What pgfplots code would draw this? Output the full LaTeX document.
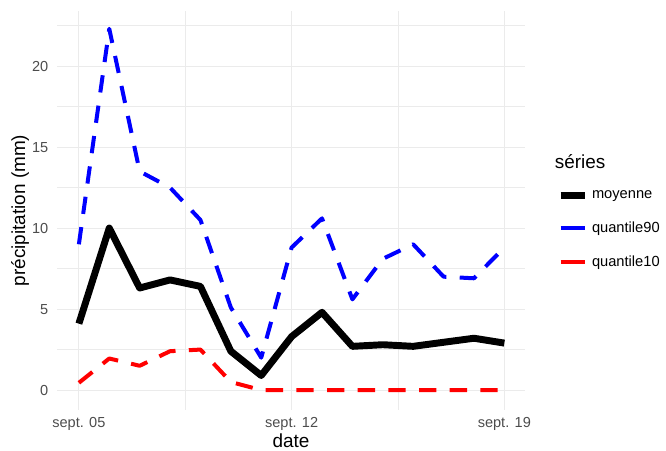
\documentclass[border=0pt]{standalone}
\usepackage{pgfplots}
\pgfplotsset{compat=1.18}
\usepackage{fontspec}
\setmainfont{Liberation Sans}
\begin{document}
\begin{tikzpicture}
\useasboundingbox (0,0) rectangle (499.5pt,337.5pt);
\begin{axis}[
  at={(42.75pt,30pt)}, anchor=south west, scale only axis,
  width=351pt, height=299.25pt,
  xmin=-0.72, xmax=14.68, ymin=-1.23, ymax=23.4,
  axis line style={draw=none}, major tick length=0pt, minor tick length=0pt,
  grid=both,
  major grid style={color=black!8, line width=0.8pt},
  minor grid style={color=black!8, line width=0.45pt},
  xtick={0,7,14}, xticklabels={sept. 05, sept. 12, sept. 19},
  minor xtick={3.5,10.5},
  ytick={0,5,...,20}, minor ytick={2.5,7.5,...,22.5},
  /pgf/number format/assume math mode=true,
  ticklabel style={font=\fontsize{10.9}{13}\selectfont, text=black!70},
  xticklabel style={yshift=-2pt},
  yticklabel style={xshift=-3pt},
  xlabel={date}, ylabel={précipitation (mm)},
  every axis x label/.style={at={(axis description cs:0.5,-0.078)}, anchor=center, font=\fontsize{14.2}{16}\selectfont},
  every axis y label/.style={at={(axis description cs:-0.079,0.5)}, rotate=90, anchor=center, font=\fontsize{14.2}{16}\selectfont},
  legend style={at={(axis description cs:1.068,0.558)}, anchor=north west, draw=none, fill=none,
    font=\fontsize{11}{13}\selectfont, row sep=12pt, inner sep=0pt,
    /tikz/every odd column/.append style={column sep=1pt}},
  legend cell align=left,
  legend image code/.code={\draw[#1, solid] (0pt,0pt) -- (18pt,0pt);},
  line join=round,
]
\addplot[black, line width=5.2pt] coordinates {
(0,4.1)(1,10.0)(2,6.3)(3,6.8)(4,6.4)(5,2.4)(6,0.9)(7,3.3)(8,4.8)(9,2.7)(10,2.8)(11,2.7)(12,2.95)(13,3.2)(14,2.9)
};
\addlegendentry{moyenne}
\addplot[blue, line width=3pt, dash pattern=on 13pt off 10pt] coordinates {
(0,9.0)(1,22.3)(2,13.5)(3,12.5)(4,10.5)(5,5.1)(6,2.0)(7,8.8)(8,10.6)(9,5.6)(10,8.1)(11,9.0)(12,7.0)(13,6.9)(14,8.8)
};
\addlegendentry{quantile90}
\addplot[red, line width=3pt, dash pattern=on 13pt off 10pt] coordinates {
(0,0.45)(1,1.95)(2,1.5)(3,2.4)(4,2.5)(5,0.5)(6,0)(7,0)(8,0)(9,0)(10,0)(11,0)(12,0)(13,0)(14,0)
};
\addlegendentry{quantile10}
\end{axis}
\node[anchor=west, font=\fontsize{14.2}{16}\selectfont, inner sep=0pt] at (416pt,216pt) {séries};
\end{tikzpicture}
\end{document}
